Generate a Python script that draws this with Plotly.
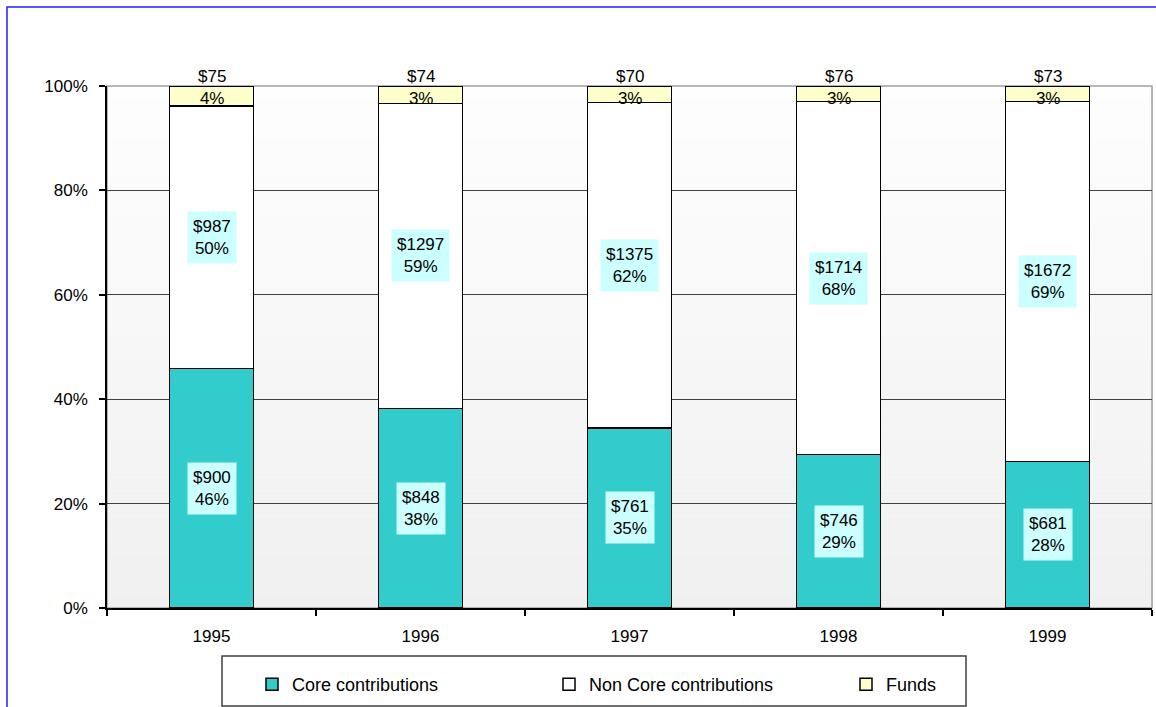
import plotly.graph_objects as go

years = ["1995", "1996", "1997", "1998", "1999"]
core = [900, 848, 761, 746, 681]
noncore = [987, 1297, 1375, 1714, 1672]
funds = [75, 74, 70, 76, 73]
core_pct_lbl = ["46%", "38%", "35%", "29%", "28%"]
noncore_pct_lbl = ["50%", "59%", "62%", "68%", "69%"]
funds_pct_lbl = ["4%", "3%", "3%", "3%", "3%"]
y_ticks = [0, 20, 40, 60, 80, 100]
y_tick_text = ["0%", "20%", "40%", "60%", "80%", "100%"]

W, H = 1156, 707
ML, MR, MT, MB = 107, 4, 86, 99
PW, PH = W - ML - MR, H - MT - MB

FONT = "Arial, Liberation Sans, sans-serif"
line = dict(color="black", width=1.5)

fig = go.Figure()
fig.add_bar(x=years, y=core, name="Core contributions",
            marker=dict(color="#33CCCC", line=line))
fig.add_bar(x=years, y=noncore, name="Non Core contributions",
            marker=dict(color="#FFFFFF", line=line))
fig.add_bar(x=years, y=funds, name="Funds",
            marker=dict(color="#FFFFCC", line=line))

lblfont = dict(family=FONT, size=17, color="black")
annotations = []
for i, yr in enumerate(years):
    tot = core[i] + noncore[i] + funds[i]
    cp = core[i] / tot * 100
    npct = noncore[i] / tot * 100
    annotations.append(dict(x=i, y=cp / 2, xref="x", yref="y",
                            text=f"${core[i]}<br>{core_pct_lbl[i]}",
                            showarrow=False, bgcolor="#CCFFFF", borderpad=5, font=lblfont))
    annotations.append(dict(x=i, y=cp + npct / 2, xref="x", yref="y",
                            text=f"${noncore[i]}<br>{noncore_pct_lbl[i]}",
                            showarrow=False, bgcolor="#CCFFFF", borderpad=5, font=lblfont))
    annotations.append(dict(x=i, y=100, xref="x", yref="y", yshift=-1,
                            text=f"${funds[i]}<br>{funds_pct_lbl[i]}",
                            showarrow=False, borderpad=0, font=lblfont))

# background gradient bands
shapes = []
n = 40
for k in range(n):
    t = (k + 0.5) / n
    v = int(round(240 + (254 - 240) * t))
    shapes.append(dict(type="rect", xref="paper", yref="y", x0=0, x1=1,
                       y0=100 * k / n, y1=100 * (k + 1) / n, layer="below",
                       line=dict(width=0), fillcolor=f"rgb({v},{v},{v})"))
# plot-area border (top/right gray)
shapes.append(dict(type="rect", xref="paper", yref="paper", x0=0, x1=1, y0=0, y1=1,
                   layer="between", line=dict(color="#A0A0A0", width=1.5)))
# outer blue chart border
shapes.append(dict(type="rect", xref="paper", yref="paper",
                   x0=(7 - ML) / PW, x1=(W + 10 - ML) / PW,
                   y0=-(H + 10 - MT - PH) / PH, y1=1 + (MT - 7) / PH,
                   layer="above", line=dict(color="#1F1FFF", width=1.5)))
# legend frame
shapes.append(dict(type="rect", xref="paper", yref="paper",
                   x0=(222 - ML) / PW, x1=(966 - ML) / PW,
                   y0=-(706 - MT - PH) / PH, y1=-(656 - MT - PH) / PH,
                   layer="above", line=dict(color="#404040", width=1.5)))

fig.update_layout(
    width=W, height=H,
    margin=dict(l=ML, r=MR, t=MT, b=MB),
    barmode="stack", barnorm="percent", bargap=0.6,
    paper_bgcolor="white", plot_bgcolor="white",
    font=dict(family=FONT, size=16, color="black"),
    showlegend=True,
    legend=dict(orientation="h", x=(252 - ML) / PW, xanchor="left",
                y=-(666 - MT - PH) / PH, yanchor="top", traceorder="normal",
                bgcolor="rgba(0,0,0,0)", borderwidth=0,
                entrywidth=252, font=dict(family=FONT, size=18, color="black"),
                itemwidth=30),
    annotations=annotations,
    shapes=shapes,
)
fig.update_yaxes(range=[0, 100], tickvals=y_ticks, ticktext=y_tick_text,
                 showgrid=True, gridcolor="#404040", gridwidth=1,
                 showline=True, linecolor="black", linewidth=1.5,
                 ticks="outside", ticklen=6, tickcolor="black", tickwidth=1.5,
                 ticklabelstandoff=8, tickfont=dict(size=17), zeroline=False)
fig.update_xaxes(showgrid=False, showline=True, linecolor="black", linewidth=1.5,
                 ticks="outside", ticklen=6, tickcolor="black", tickwidth=1.5,
                 tickson="boundaries", ticklabelstandoff=12, tickfont=dict(size=17),
                 range=[-0.5, 4.5])

fig.write_html("out.html")
